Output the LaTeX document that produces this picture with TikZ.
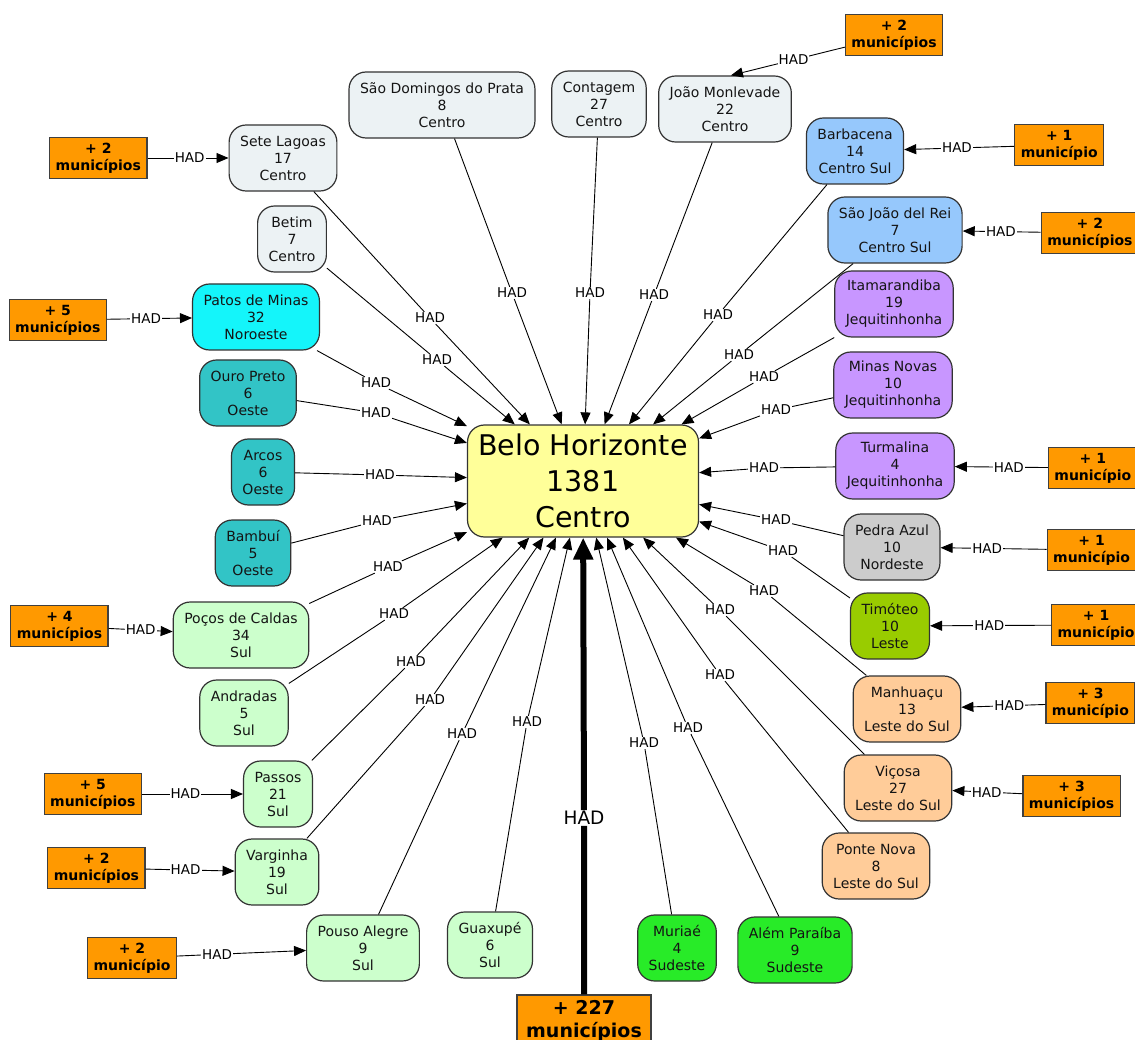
\documentclass[tikz,border=0pt]{standalone}
\usepackage{fontspec}
\setmainfont{DejaVu Sans}
\usepackage{tikz}
\usetikzlibrary{positioning,arrows.meta}
\usepackage{xcolor}
\definecolor{centrogray}{RGB}{236,242,244}
\definecolor{centrosulblue}{RGB}{150,200,252}
\definecolor{jequipurple}{RGB}{200,150,255}
\definecolor{noroestecyan}{RGB}{20,245,250}
\definecolor{oesteteal}{RGB}{50,196,198}
\definecolor{sulgreen}{RGB}{204,255,204}
\definecolor{sudestegreen}{RGB}{40,235,40}
\definecolor{nordestegray}{RGB}{204,204,204}
\definecolor{lestegreen}{RGB}{153,204,0}
\definecolor{lestesulpeach}{RGB}{255,204,153}
\definecolor{hubyellow}{RGB}{255,255,153}
\definecolor{extraorange}{RGB}{255,153,0}
\newcommand{\citysize}{\fontsize{14}{17}\selectfont}
\newcommand{\hadsize}{\fontsize{13.5}{16}\selectfont}
\newcommand{\hubsize}{\fontsize{28.5}{36}\selectfont}
\newcommand{\extrasize}{\fontsize{14}{17}\selectfont\bfseries}
\newcommand{\bigextrasize}{\fontsize{19}{23}\selectfont\bfseries}

\begin{document}
\begin{tikzpicture}[
    x=1pt, y=-1pt,
    city/.style={rectangle, rounded corners=17pt, draw=black!80, line width=1.2pt,
                 text=black!92, align=center, font=\citysize,
                 inner xsep=11pt, minimum height=66pt},
    centro/.style={city, fill=centrogray},
    centrosul/.style={city, fill=centrosulblue},
    jequi/.style={city, fill=jequipurple},
    noroeste/.style={city, fill=noroestecyan},
    oeste/.style={city, fill=oesteteal},
    sul/.style={city, fill=sulgreen},
    sudeste/.style={city, fill=sudestegreen},
    nordeste/.style={city, fill=nordestegray},
    leste/.style={city, fill=lestegreen},
    lestesul/.style={city, fill=lestesulpeach},
    hub/.style={rectangle, rounded corners=17pt, draw=black!80, line width=1.2pt,
                fill=hubyellow, align=center, font=\hubsize,
                minimum width=231pt, minimum height=112pt},
    extra/.style={rectangle, draw=black!75, fill=extraorange, line width=1.2pt,
                  align=center, font=\extrasize, inner xsep=6pt, minimum height=41pt},
    had/.style={font=\hadsize, inner sep=1pt},
    hadw/.style={had, fill=white},
    arrow/.style={->, >={Triangle[length=12pt,width=10pt]}, line width=0.9pt},
    bigarrow/.style={->, >={Triangle[length=22pt,width=19pt]}, line width=6pt}
]
\useasboundingbox (0,0) rectangle (1135,1040);

% Hub
\node[hub] (bh) at (583,481) {Belo Horizonte\\1381\\Centro};

% Cities
\node[centro] (sdom) at (442,105) {São Domingos do Prata\\8\\Centro};
\node[centro] (contagem) at (599,104) {Contagem\\27\\Centro};
\node[centro] (joao) at (725,109) {João Monlevade\\22\\Centro};
\node[centro] (sete) at (283,158) {Sete Lagoas\\17\\Centro};
\node[centro] (betim) at (292,239) {Betim\\7\\Centro};
\node[noroeste] (patos) at (256,317) {Patos de Minas\\32\\Noroeste};
\node[oeste] (ouro) at (248,393) {Ouro Preto\\6\\Oeste};
\node[oeste] (arcos) at (263,472) {Arcos\\6\\Oeste};
\node[oeste] (bambui) at (253,553) {Bambuí\\5\\Oeste};
\node[sul] (pocos) at (241,635) {Poços de Caldas\\34\\Sul};
\node[sul] (andradas) at (244,713) {Andradas\\5\\Sul};
\node[sul] (passos) at (278,794) {Passos\\21\\Sul};
\node[sul] (varginha) at (277,872) {Varginha\\19\\Sul};
\node[sul] (pouso) at (363,948) {Pouso Alegre\\9\\Sul};
\node[sul] (guaxupe) at (490,945) {Guaxupé\\6\\Sul};
\node[sudeste] (muriae) at (677,948) {Muriaé\\4\\Sudeste};
\node[sudeste] (alem) at (795,950) {Além Paraíba\\9\\Sudeste};
\node[lestesul] (ponte) at (876,866) {Ponte Nova\\8\\Leste do Sul};
\node[lestesul] (vicosa) at (898,788) {Viçosa\\27\\Leste do Sul};
\node[lestesul] (manhuacu) at (907,709) {Manhuaçu\\13\\Leste do Sul};
\node[leste] (timoteo) at (890,626) {Timóteo\\10\\Leste};
\node[nordeste] (pedra) at (892,547) {Pedra Azul\\10\\Nordeste};
\node[jequi] (turmalina) at (895,466) {Turmalina\\4\\Jequitinhonha};
\node[jequi] (minas) at (893,385) {Minas Novas\\10\\Jequitinhonha};
\node[jequi] (itam) at (894,304) {Itamarandiba\\19\\Jequitinhonha};
\node[centrosul] (sjdr) at (895,230) {São João del Rei\\7\\Centro Sul};
\node[centrosul] (barb) at (855,151) {Barbacena\\14\\Centro Sul};

% Other municipalities
\node[extra] (fjoao) at (894,35) {+ 2\\municípios};
\node[extra, left=81pt of sete] (fsete) {+ 2\\municípios};
\node[extra, left=85pt of patos, yshift=-3pt] (fpatos) {+ 5\\municípios};
\node[extra, left=64pt of pocos, yshift=9pt] (fpocos) {+ 4\\municípios};
\node[extra, left=101pt of passos] (fpassos) {+ 5\\municípios};
\node[extra, left=89pt of varginha, yshift=4pt] (fvarginha) {+ 2\\municípios};
\node[extra, left=129pt of pouso, yshift=-10pt] (fpouso) {+ 2\\município};
\node[extra, right=110pt of barb, yshift=6pt] (fbarb) {+ 1\\município};
\node[extra, right=78pt of sjdr, yshift=-3pt] (fsjdr) {+ 2\\municípios};
\node[extra, right=93pt of turmalina, yshift=-2pt] (fturmalina) {+ 1\\município};
\node[extra, right=106pt of pedra, yshift=-3pt] (fpedra) {+ 1\\município};
\node[extra, right=121pt of timoteo, yshift=1pt] (ftimoteo) {+ 1\\município};
\node[extra, right=84pt of manhuacu, yshift=6pt] (fmanhuacu) {+ 3\\município};
\node[extra, right=70pt of vicosa, yshift=-8pt] (fvicosa) {+ 3\\municípios};
\node[extra, font=\bigextrasize, minimum width=134pt, minimum height=52pt] (fbh) at (584,1021) {+ 227\\municípios};

% Labels on the links to the hub
\node[had] (hsdom) at (512,293) {HAD};
\node[had] (hcontagem) at (590,293) {HAD};
\node[had] (hjoao) at (654,295) {HAD};
\node[had] (hsete) at (430,318) {HAD};
\node[had] (hbetim) at (437,360) {HAD};
\node[had] (hpatos) at (376,383) {HAD};
\node[had] (houro) at (376,413) {HAD};
\node[had] (harcos) at (380,475) {HAD};
\node[had] (hbambui) at (377,521) {HAD};
\node[had] (hpocos) at (388,567) {HAD};
\node[had] (handradas) at (394,614) {HAD};
\node[had] (hpassos) at (411,662) {HAD};
\node[had] (hvarginha) at (430,700) {HAD};
\node[had] (hpouso) at (462,734) {HAD};
\node[had] (hguaxupe) at (527,722) {HAD};
\node[had] (hmuriae) at (644,743) {HAD};
\node[had] (halem) at (688,728) {HAD};
\node[had] (hponte) at (720,675) {HAD};
\node[had] (hvicosa) at (720,610) {HAD};
\node[had] (hmanhuacu) at (764,591) {HAD};
\node[had] (htimoteo) at (783,551) {HAD};
\node[had] (hpedra) at (776,520) {HAD};
\node[had] (hturmalina) at (764,468) {HAD};
\node[had] (hminas) at (776,410) {HAD};
\node[had] (hitam) at (764,377) {HAD};
\node[had] (hsjdr) at (739,355) {HAD};
\node[had] (hbarb) at (718,315) {HAD};
\node[had, font=\fontsize{18.5}{22}\selectfont] (hbig) at (584,818) {HAD};

% Links to the hub
\draw[arrow] (sdom) -- (hsdom) -- (bh);
\draw[arrow] (contagem) -- (hcontagem) -- (bh);
\draw[arrow] (joao) -- (hjoao) -- (bh);
\draw[arrow] (sete) -- (hsete) -- (bh);
\draw[arrow] (betim) -- (hbetim) -- (bh);
\draw[arrow] (patos) -- (hpatos) -- (bh);
\draw[arrow] (ouro) -- (houro) -- (bh);
\draw[arrow] (arcos) -- (harcos) -- (bh);
\draw[arrow] (bambui) -- (hbambui) -- (bh);
\draw[arrow] (pocos) -- (hpocos) -- (bh);
\draw[arrow] (andradas) -- (handradas) -- (bh);
\draw[arrow] (passos) -- (hpassos) -- (bh);
\draw[arrow] (varginha) -- (hvarginha) -- (bh);
\draw[arrow] (pouso) -- (hpouso) -- (bh);
\draw[arrow] (guaxupe) -- (hguaxupe) -- (bh);
\draw[arrow] (muriae) -- (hmuriae) -- (bh);
\draw[arrow] (alem) -- (halem) -- (bh);
\draw[arrow] (ponte) -- (hponte) -- (bh);
\draw[arrow] (vicosa) -- (hvicosa) -- (bh);
\draw[arrow] (manhuacu) -- (hmanhuacu) -- (bh);
\draw[arrow] (timoteo) -- (htimoteo) -- (bh);
\draw[arrow] (pedra) -- (hpedra) -- (bh);
\draw[arrow] (turmalina) -- (hturmalina) -- (bh);
\draw[arrow] (minas) -- (hminas) -- (bh);
\draw[arrow] (itam) -- (hitam) -- (bh);
\draw[arrow] (sjdr) -- (hsjdr) -- (bh);
\draw[arrow] (barb) -- (hbarb) -- (bh);
\draw[bigarrow] (fbh) -- (hbig) -- (bh);

% Links from the other municipalities
\draw[arrow] (fjoao) -- node[hadw, pos=0.45] {HAD} (joao.80);
\draw[arrow] (fsete) -- node[hadw, pos=0.52] {HAD} (sete);
\draw[arrow] (fpatos) -- node[hadw, pos=0.46] {HAD} (patos);
\draw[arrow] (fpocos) -- node[hadw, pos=0.5] {HAD} (pocos);
\draw[arrow] (fpassos) -- node[hadw, pos=0.43] {HAD} (passos);
\draw[arrow] (fvarginha) -- node[hadw, pos=0.45] {HAD} (varginha);
\draw[arrow] (fpouso) -- node[hadw, pos=0.31] {HAD} (pouso);
\draw[arrow] (fbarb) -- node[hadw, pos=0.52] {HAD} (barb);
\draw[arrow] (fsjdr) -- node[hadw, pos=0.51] {HAD} (sjdr);
\draw[arrow] (fturmalina) -- node[hadw, pos=0.42] {HAD} (turmalina);
\draw[arrow] (fpedra) -- node[hadw, pos=0.56] {HAD} (pedra);
\draw[arrow] (ftimoteo) -- node[hadw, pos=0.51] {HAD} (timoteo);
\draw[arrow] (fmanhuacu) -- node[hadw, pos=0.43] {HAD} (manhuacu);
\draw[arrow] (fvicosa) -- node[hadw, pos=0.51] {HAD} (vicosa);

\end{tikzpicture}
\end{document}
